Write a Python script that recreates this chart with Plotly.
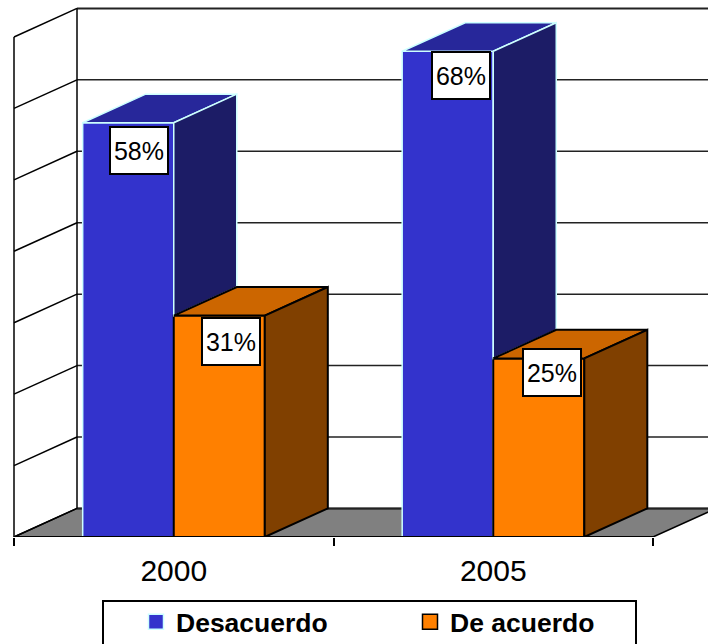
import plotly.graph_objects as go

categories = ["2000", "2005"]
desacuerdo = [58, 68]
de_acuerdo = [31, 25]
grid_values = [0, 10, 20, 30, 40, 50, 60, 70]

FONT = "Liberation Sans"
W, H = 708, 644
PX_X = 319.5          # pixels per category
PX_Y = 500 / 70       # pixels per percentage point
X0, Y0 = 14, 537      # front-left floor corner, in pixels
DX, DY = 63 / PX_X, 4 # oblique depth, in axis units
BAR_W = 0.285
BLUE, ORANGE = "#3333CC", "#FF8000"
BLUE_EDGE, ORANGE_EDGE = "#CCFFFF", "#000000"
centers = [i + 0.5 for i in range(len(categories))]

fig = go.Figure()

# front faces
fig.add_bar(name="Desacuerdo", x=centers, y=desacuerdo, showlegend=False,
            marker=dict(color=BLUE, line=dict(color=BLUE_EDGE, width=1.5)))
fig.add_bar(name="De acuerdo", x=centers, y=de_acuerdo, showlegend=False,
            marker=dict(color=ORANGE, line=dict(color=ORANGE_EDGE, width=2)))


def poly(xs, ys, fill, line, width):
    fig.add_scatter(x=xs, y=ys, mode="lines", fill="toself", fillcolor=fill,
                    line=dict(color=line, width=width), showlegend=False, hoverinfo="skip")


for c, blue, orange in zip(centers, desacuerdo, de_acuerdo):
    # blue block: side is only drawn where the orange block does not hide it
    poly([c - BAR_W, c, c + DX, c - BAR_W + DX, c - BAR_W],
         [blue, blue, blue + DY, blue + DY, blue], "#27279A", BLUE_EDGE, 1.5)
    poly([c, c + DX, c + DX, c, c],
         [blue, blue + DY, orange + DY, orange, blue], "#1C1C66", BLUE_EDGE, 1.5)
    # orange block
    poly([c, c + BAR_W, c + BAR_W + DX, c + DX, c],
         [orange, orange, orange + DY, orange + DY, orange], "#CC6600", ORANGE_EDGE, 2)
    poly([c + BAR_W, c + BAR_W + DX, c + BAR_W + DX, c + BAR_W, c + BAR_W],
         [orange, orange + DY, DY, 0, orange], "#804000", ORANGE_EDGE, 2)

# front edge of floor
fig.add_scatter(x=[0, len(categories)], y=[0, 0], mode="lines", cliponaxis=False,
                line=dict(color="#000000", width=2), showlegend=False, hoverinfo="skip")

# legend keys
for name, col, edge, size in [("Desacuerdo", BLUE, BLUE_EDGE, 15), ("De acuerdo", ORANGE, ORANGE_EDGE, 15)]:
    fig.add_scatter(x=[None], y=[None], mode="markers", name=name,
                    marker=dict(symbol="square", size=size, color=col, line=dict(color=edge, width=1.5)))

shapes = []
n = len(categories)
xmax = (W - X0) / PX_X
# floor
shapes.append(dict(type="path", layer="below", xref="x", yref="y",
                   path=f"M0,0 L{DX},{DY} L{n + DX},{DY} L{n},0 Z",
                   fillcolor="#808080", line=dict(color="#000000", width=1.5)))
# walls
for v in grid_values:
    w = 2 if v in (0, 70) else 1.5
    shapes.append(dict(type="line", layer="below", x0=DX, x1=xmax, y0=v + DY, y1=v + DY,
                       line=dict(color="#222222", width=w)))
    shapes.append(dict(type="line", layer="below", x0=0, x1=DX, y0=v, y1=v + DY,
                       line=dict(color="#000000", width=1.5)))
shapes.append(dict(type="line", layer="below", x0=0, x1=0, y0=0, y1=grid_values[-1],
                   line=dict(color="#000000", width=1.5)))
shapes.append(dict(type="line", layer="below", x0=DX, x1=DX, y0=DY, y1=grid_values[-1] + DY,
                   line=dict(color="#000000", width=1.5)))
# legend frame, running off the bottom of the page as in the reference
shapes.append(dict(type="rect", layer="above", xref="paper", yref="paper",
                   x0=103 / W, x1=636 / W, y0=(Y0 - 601) / Y0, y1=(Y0 - 660) / Y0,
                   fillcolor="#FFFFFF", line=dict(color="#000000", width=2)))

# value labels
annotations = []
label_shift = {0: [(11, 28), (13, 24.5)], 1: [(12, 25.5), (13, 14.5)]}
for s, (vals, sign) in enumerate([(desacuerdo, -0.5), (de_acuerdo, 0.5)]):
    for i, v in enumerate(vals):
        dx, dy = label_shift[s][i]
        annotations.append(dict(x=centers[i] + sign * BAR_W, y=v, text=f"{v}%", showarrow=False,
                                xshift=dx, yshift=-dy, width=54, height=43,
                                bgcolor="#FFFFFF", bordercolor="#000000", borderwidth=2,
                                font=dict(family=FONT, size=25, color="#000000")))

fig.update_layout(
    width=W, height=H, autosize=False,
    margin=dict(l=0, r=0, t=0, b=H - Y0, autoexpand=False),
    paper_bgcolor="#FFFFFF", plot_bgcolor="#FFFFFF",
    barmode="group", bargap=1 - 2 * BAR_W, bargroupgap=0,
    hovermode=False,
    xaxis=dict(range=[-X0 / PX_X, xmax], type="linear", showgrid=False, zeroline=False,
               showline=False, tickmode="array", tickvals=centers, ticktext=categories,
               ticks="", ticklabelstandoff=13,
               tickfont=dict(family=FONT, size=30, color="#000000"),
               minor=dict(tickmode="array", tickvals=[0, 1, 2], ticks="outside", ticklen=8,
                          tickwidth=1.5, tickcolor="#000000", showgrid=False)),
    yaxis=dict(range=[0, Y0 / PX_Y], visible=False),
    shapes=shapes,
    annotations=annotations,
    showlegend=True,
    legend=dict(orientation="h", xref="paper", yref="container", x=103 / W, xanchor="left",
                y=1 - 598 / H, yanchor="top", bgcolor="rgba(0,0,0,0)", borderwidth=0,
                font=dict(family=FONT, size=26.5, color="#000000", weight=700),
                entrywidth=196, entrywidthmode="pixels", indentation=33, itemsizing="trace",
                traceorder="normal", itemclick=False, itemdoubleclick=False),
)

fig.write_html("out.html", config=dict(displayModeBar=False),
               post_script="document.body.style.margin='0';document.documentElement.style.overflow='hidden';")
